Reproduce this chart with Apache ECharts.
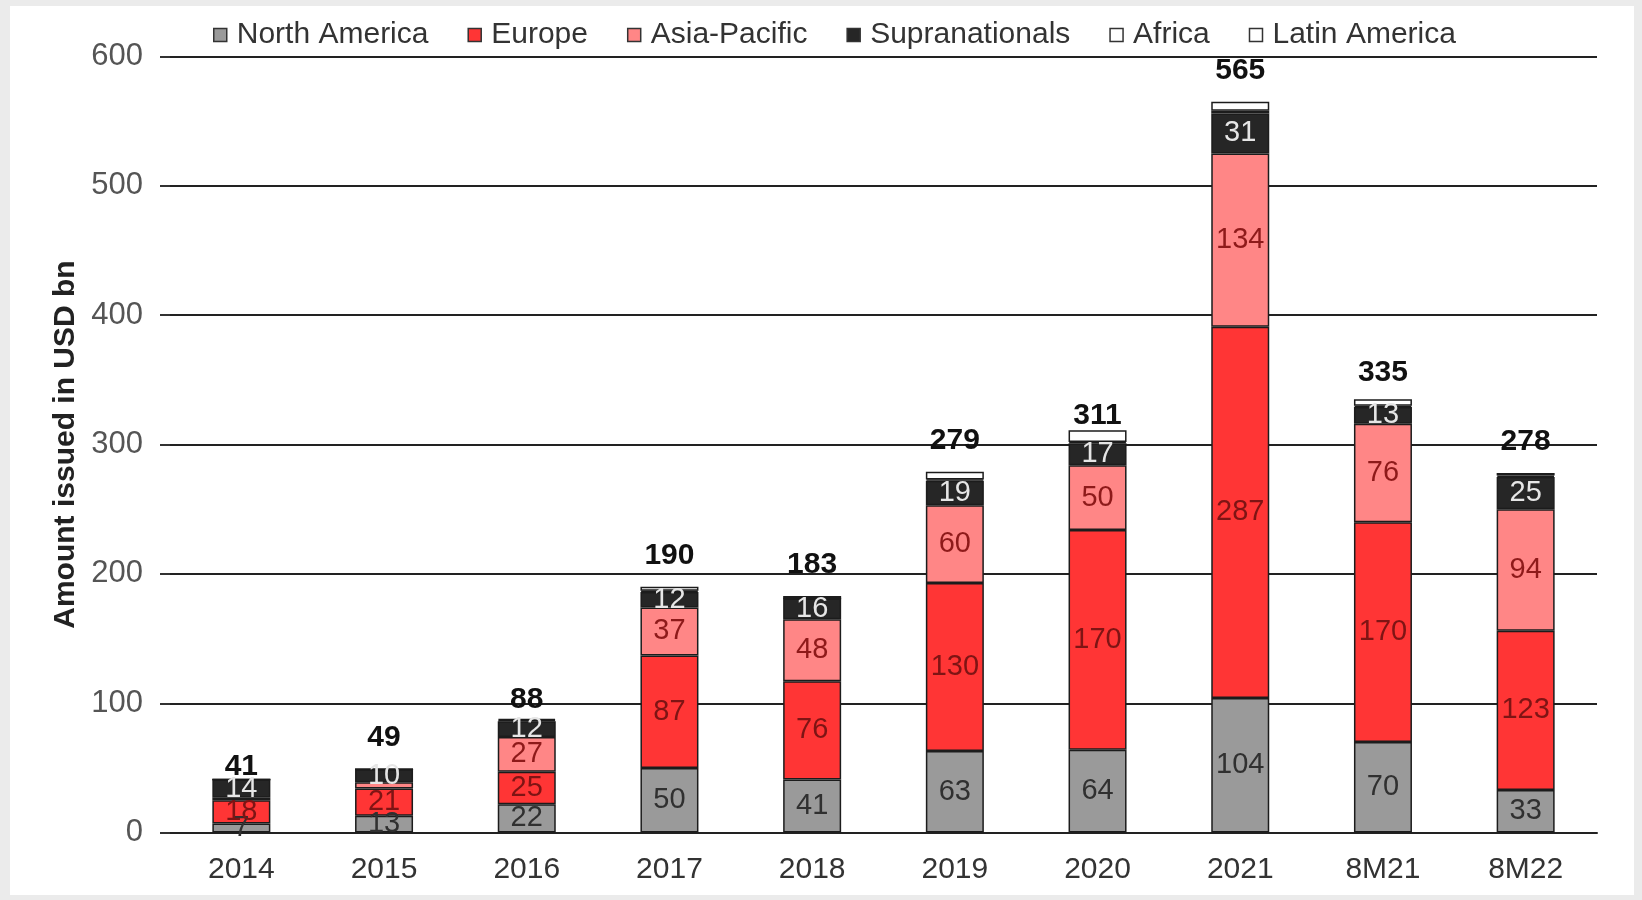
<!DOCTYPE html>
<html>
<head>
<meta charset="utf-8">
<title>Green bond issuance by region</title>
<script src="https://cdn.jsdelivr.net/npm/echarts@6/dist/echarts.min.js"></script>
<style>
  html, body { margin: 0; padding: 0; background: #ebebeb; }
  #panel { position: absolute; left: 10px; top: 6px; width: 1624px; height: 889px; background: #ffffff; }
  #chart { position: absolute; left: 0; top: 0; width: 1642px; height: 900px; }
</style>
</head>
<body>
<div id="panel"></div>
<div id="chart"></div>
<script>
// Issuance by region, USD bn
const categories = ['2014', '2015', '2016', '2017', '2018', '2019', '2020', '2021', '8M21', '8M22'];
const northAmerica   = [7, 13, 22, 50, 41, 63, 64, 104, 70, 33];
const europe         = [18, 21, 25, 87, 76, 130, 170, 287, 170, 123];
const asiaPacific    = [2, 5, 27, 37, 48, 60, 50, 134, 76, 94];
const supranationals = [14, 10, 12, 12, 16, 19, 17, 31, 13, 25];
const africa         = [0, 0, 1, 1, 0, 1, 1, 2, 1, 1];
const latinAmerica   = [0, 0, 1, 3, 2, 6, 9, 7, 5, 2];
const totals         = [41, 49, 88, 190, 183, 279, 311, 565, 335, 278];
const yTicks = { min: 0, max: 600, step: 100 };

const FONT = '"Liberation Sans", Arial, sans-serif';
const BORDER = '#1c1c1c';

// total labels sit closer to a few of the bars
const totalLabelGap = { '2014': -2, '2016': 4, '2020': 0, '8M21': 12 };

function segment(name, data, color, labelColor, showLabel) {
  return {
    name: name,
    type: 'bar',
    stack: 'region',
    barWidth: 58,
    data: data,
    itemStyle: { color: color, borderColor: BORDER, borderWidth: 1.5 },
    label: {
      show: showLabel,
      position: 'inside',
      fontFamily: FONT,
      fontSize: 29,
      color: labelColor,
      formatter: p => (p.value >= 7 ? String(p.value) : '')
    },
    emphasis: { disabled: true }
  };
}

const series = [
  segment('North America', northAmerica, '#9a9a9a', '#303030', true),
  segment('Europe', europe, '#ff3535', '#7e1414', true),
  segment('Asia-Pacific', asiaPacific, '#ff8686', '#8e1a1a', true),
  segment('Supranationals', supranationals, '#262626', '#e6e6e6', true),
  segment('Africa', africa, '#ffffff', '#333', false),
  segment('Latin America', latinAmerica, '#ffffff', '#333', false),
  {
    name: 'Total',
    type: 'bar',
    barWidth: 58,
    barGap: '-100%',
    silent: true,
    data: totals.map((v, i) => ({
      value: v,
      label: { distance: totalLabelGap[categories[i]] !== undefined ? totalLabelGap[categories[i]] : 16 }
    })),
    itemStyle: { color: 'rgba(0,0,0,0)' },
    label: {
      show: true,
      position: 'top',
      fontFamily: FONT,
      fontSize: 30,
      fontWeight: 'bold',
      color: '#111'
    }
  }
];

const chart = echarts.init(document.getElementById('chart'), null, { renderer: 'canvas' });
chart.setOption({
  animation: false,
  backgroundColor: 'transparent',
  textStyle: { fontFamily: FONT },
  legend: {
    data: ['North America', 'Europe', 'Asia-Pacific', 'Supranationals', 'Africa', 'Latin America'],
    left: 208,
    top: 15,
    icon: 'rect',
    itemWidth: 13,
    itemHeight: 13,
    itemGap: 39,
    itemStyle: { borderColor: '#333', borderWidth: 1.5 },
    textStyle: { fontFamily: FONT, fontSize: 30, color: '#333', padding: [0, 0, 0, 5] }
  },
  grid: { left: 170, right: 45, top: 56.5, bottom: 67.4, containLabel: false },
  xAxis: {
    type: 'category',
    data: categories,
    axisLine: { lineStyle: { color: '#222', width: 2 } },
    axisTick: { show: false },
    axisLabel: { fontFamily: FONT, fontSize: 30, color: '#333', margin: 22 }
  },
  yAxis: {
    type: 'value',
    min: yTicks.min,
    max: yTicks.max,
    interval: yTicks.step,
    name: 'Amount issued in USD bn',
    nameLocation: 'middle',
    nameGap: 85,
    nameTextStyle: { fontFamily: FONT, fontSize: 30, fontWeight: 'bold', color: '#222' },
    axisLine: { show: false },
    axisTick: { show: true, length: 10, lineStyle: { color: '#333', width: 2 } },
    axisLabel: { fontFamily: FONT, fontSize: 31, color: '#555', margin: 27 },
    splitLine: { lineStyle: { color: '#222', width: 2 } }
  },
  series: series
});
</script>
</body>
</html>
